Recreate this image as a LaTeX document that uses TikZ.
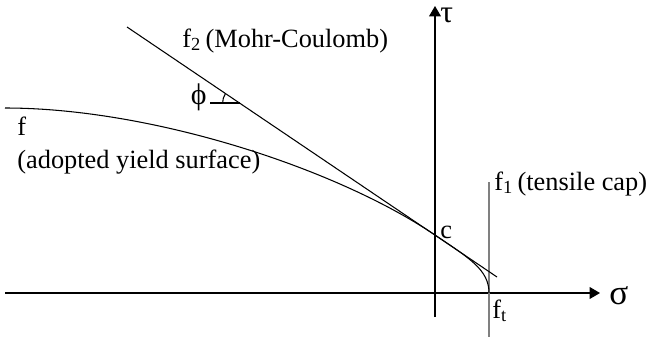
\documentclass[tikz,border=0pt]{standalone}
\usepackage{fontspec}
\setmainfont{Liberation Serif}
\usetikzlibrary{arrows.meta,positioning,calc}
\definecolor{capc}{HTML}{808080}
\tikzset{
  lbl/.style={font=\fontsize{15}{18}\selectfont, inner sep=0pt},
  axs/.style={line width=0.6pt, -{Triangle[length=2.1mm, width=2.4mm]}},
  crv/.style={line width=0.6pt},
  capline/.style={line width=0.9pt, draw=capc},
}

\begin{document}
\begin{tikzpicture}[x=0.02cm, y=-0.02cm]
  \useasboundingbox (0,0) rectangle (646,345);
  % axes
  \coordinate (sl) at (5,293); \coordinate (sr) at (600,293);
  \coordinate (tb) at (435,317); \coordinate (tt) at (435,6);
  \draw[axs] (sl) -- (sr);
  \draw[axs] (tb) -- (tt);
  \node[lbl, font=\fontsize{20}{24}\selectfont, anchor=base west] (sig) at (609,304) {σ};
  \node[lbl, font=\fontsize{18}{22}\selectfont, anchor=base west] (tau) at (440,22) {τ};
  % tensile cap f1
  \coordinate (capt) at (489,182); \coordinate (capb) at (489,337);
  \draw[capline] (capt) -- (capb);
  \node[lbl, anchor=base west] (f1) at (494,190) {f\textsubscript{1}\,(tensile cap)};
  \node[lbl, anchor=base west] (ft) at (492,318) {f\textsubscript{t}};
  % Mohr-Coulomb f2
  \coordinate (mca) at (127,27); \coordinate (mcb) at (497,277);
  \draw[crv] (mca) -- (mcb);
  \node[lbl, anchor=base west] (f2) at (182,47) {f\textsubscript{2}\,(Mohr-Coulomb)};
  % friction angle
  \coordinate (phiv) at (239.6,103); \coordinate (phih) at (210,103);
  \draw[crv] (phih) -- (phiv);
  \draw[crv] ($(phiv)+(-17,0)$) arc[start angle=180, end angle=214, radius=17];
  \node[lbl, font=\fontsize{17}{20}\selectfont, anchor=east] (phi) at (207,97) {ϕ};
  % adopted yield surface f
  \coordinate (fa) at (5,108); \coordinate (c) at (435,235); \coordinate (ftp) at (489,293);
  \draw[crv] (fa) .. controls (150,108) and (335,167.5) .. (c)
                  .. controls (470,258.6) and (489,270) .. (ftp);
  \node[lbl, anchor=base west] (f) at (17,135) {f};
  \node[lbl, anchor=base west] (ays) at (17,168) {(adopted yield surface)};
  \node[lbl, anchor=base west] (cl) at (440,238) {c};
\end{tikzpicture}
\end{document}
